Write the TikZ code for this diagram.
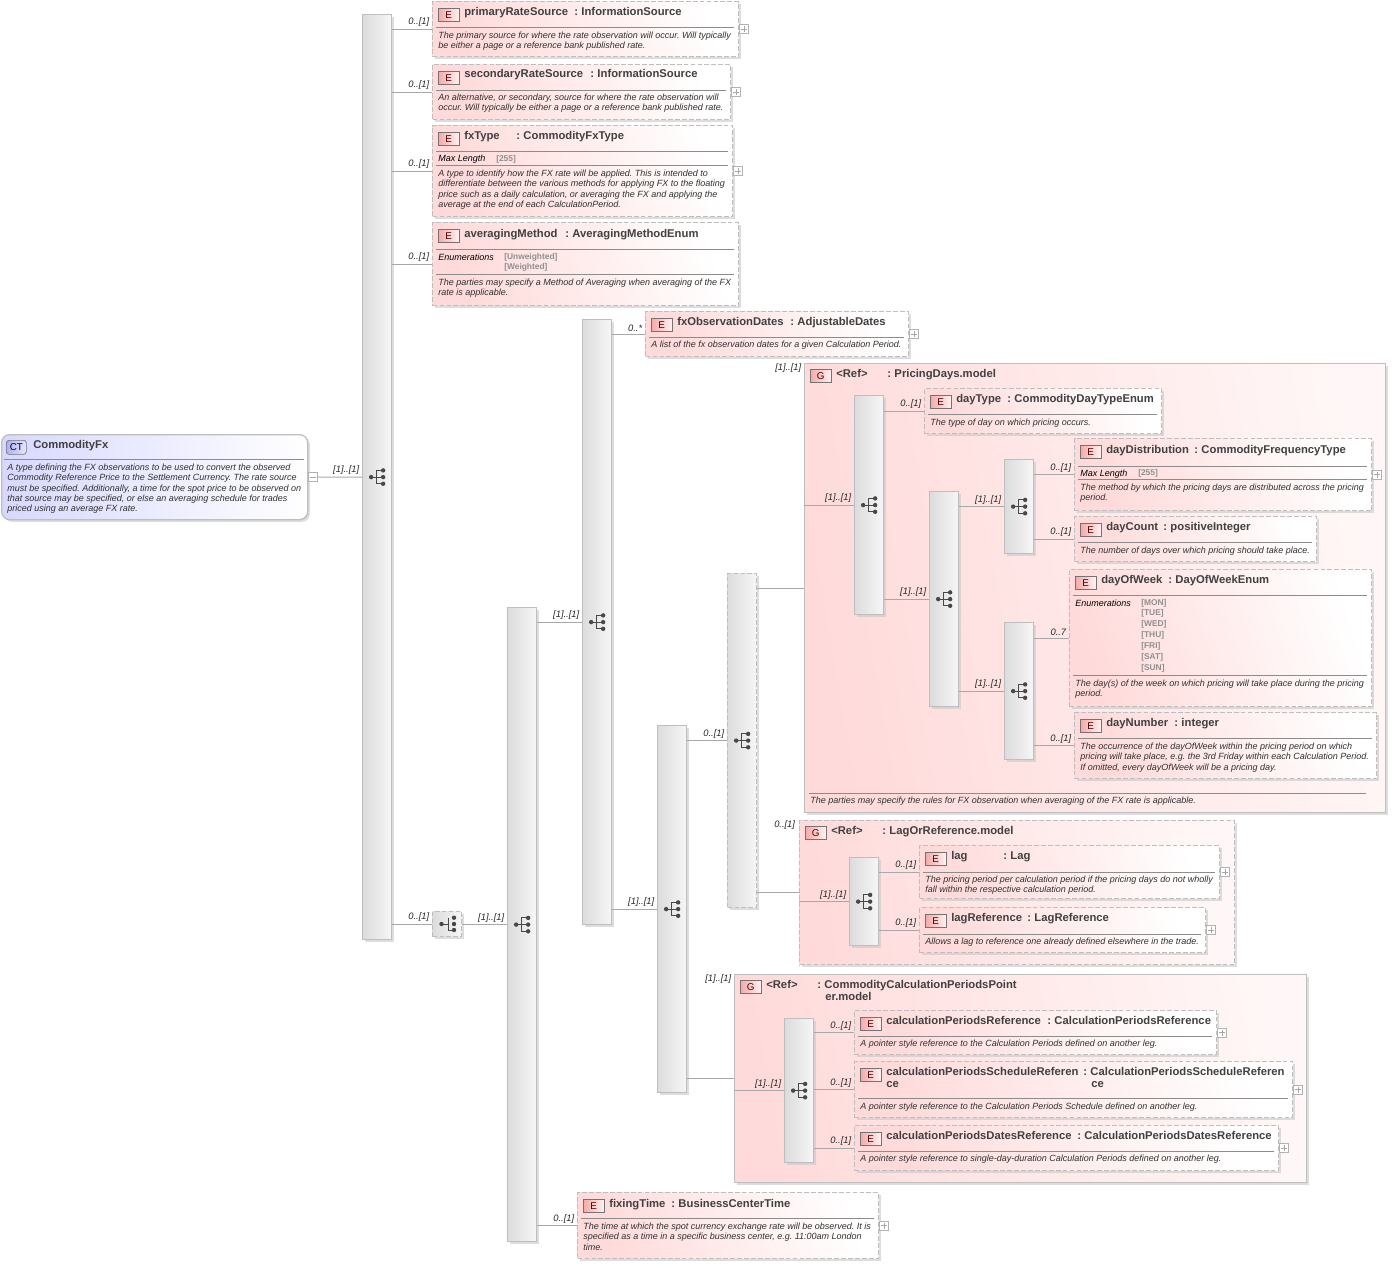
\documentclass[tikz,border=0pt]{standalone}
\usepackage{fontspec}
\setmainfont{Liberation Sans}
\usetikzlibrary{shadows}

\definecolor{elempink}{HTML}{FFDADA}
\definecolor{grouppale}{HTML}{FFF7F7}
\definecolor{badgepink}{HTML}{F6A8A8}
\definecolor{ctblue}{HTML}{D8D8FF}
\definecolor{badgeblue}{HTML}{B0B0F0}
\definecolor{edgegray}{HTML}{BEBEBE}
\definecolor{linegray}{HTML}{A8A8A8}
\definecolor{icongray}{HTML}{484848}
\definecolor{bargray}{HTML}{DCDCDC}
\definecolor{barpale}{HTML}{F6F6F6}
\definecolor{textgray}{HTML}{303030}
\definecolor{titlegray}{HTML}{404040}
\definecolor{enumgray}{HTML}{909090}

\tikzset{
  softshadow/.style={general shadow={shadow xshift=1.7pt, shadow yshift=-1.7pt, fill=black!22, opacity=.6}},
  dashedge/.style={dashed, dash pattern=on 3.6pt off 1.6pt},
  elembox/.style={anchor=north west, inner sep=0, softshadow, draw=edgegray, dashedge,
    line width=.95pt, left color=elempink, right color=white, shading angle=108},
  groupbox/.style={anchor=north west, inner sep=0, softshadow, draw=edgegray, line width=1.1pt,
    left color=elempink, right color=grouppale, shading angle=100},
  groupdash/.style={groupbox, dashedge},
  barbox/.style={anchor=north west, inner sep=0, softshadow, draw=edgegray, line width=.9pt, minimum width=21.8pt,
    left color=bargray, right color=barpale, shading angle=90},
  bardash/.style={barbox, dashedge},
  badge/.style={anchor=north west, inner sep=0, minimum width=15.5pt, minimum height=9.8pt, draw=black!55, line width=.5pt,
    left color=badgepink, right color=red!5, text=red!30!black, font=\fontsize{7.4}{8}\selectfont},
  titletext/.style={anchor=west, inner sep=0, text height=7.2pt, text depth=1.5pt, text=titlegray,
    font=\fontsize{8.45}{9}\selectfont\bfseries},
  desctext/.style={anchor=north west, inner sep=0, align=left, text=textgray,
    font=\fontsize{6.75}{7.7}\selectfont\itshape\frenchspacing},
  metatext/.style={anchor=west, inner sep=0, text=black, text height=6pt, text depth=1.2pt,
    font=\fontsize{6.75}{7.7}\selectfont\itshape},
  enumtext/.style={anchor=west, inner sep=0, text=enumgray, text height=6pt, text depth=1.2pt,
    font=\fontsize{6.3}{7}\selectfont\bfseries},
  cardlab/.style={anchor=south east, inner sep=0, xshift=-1.8pt, yshift=1.5pt, text=black!85,
    font=\fontsize{7}{8}\selectfont\itshape},
  cardtop/.style={anchor=west, inner sep=0, text=black!85, text height=6.2pt, text depth=1.5pt,
    font=\fontsize{7}{8}\selectfont\itshape},
  conn/.style={draw=linegray, line width=.65pt},
  rulegray/.style={draw=black!45, line width=.55pt},
  expander/.style={anchor=west, inner sep=0, minimum size=6.8pt, draw=black!30, line width=.5pt, fill=white},
  seqicon/.pic={
    \draw[icongray, line width=.65pt] (-5.5,0) -- (6,0) (-1,-6.7) -- (-1,6.7) (-1,-6.7) -- (6,-6.7) (-1,6.7) -- (6,6.7);
    \foreach \d in {-6.7,0,6.7} \fill[icongray] (6,\d) circle (2.2);
    \fill[icongray] (-6,0) circle (2.2);
  },
}

% id, x, y, width, height, rows of the rules
\newcommand{\elem}[6]{%
  \node[elembox, minimum width=(#4-1)*0.75pt, minimum height=(#5-1)*0.75pt] (#1) at (#2,#3) {};
  \node[badge] (#1badge) at (#2+6,#3+7) {E};
  \foreach \ry in {#6} \draw[rulegray] (#2+4,\ry) -- (#2+#4-5,\ry);
}
% id, x, row, name, x of the colon, type
\newcommand{\etitle}[6]{%
  \node[titletext] (#1name) at (#2,#3) {#4};
  \node[titletext] (#1type) at (#5,#3) {:\hspace{2.6pt}#6};
}
% id, x, row of the first line, lines
\newcommand{\dtext}[4]{%
  \node[desctext] (#1desc) at (#2,#3-3.8) {\strut #4};
}
% id, x, y, height
\newcommand{\seqbar}[4]{%
  \node[barbox, minimum height=(#4-1)*0.75pt] (#1) at (#2,#3) {};
  \pic at (#1.center) {seqicon};
}
\newcommand{\plusbox}[1]{%
  \node[expander] (#1plus) at (#1.east) {};
  \draw[draw=black!35, line width=.4pt] ([xshift=-2.2pt]#1plus.center) -- ([xshift=2.2pt]#1plus.center)
    ([yshift=-2.2pt]#1plus.center) -- ([yshift=2.2pt]#1plus.center);
}
\newcommand{\link}[3]{%
  \draw[conn] (#1.east |- #2.west) -- (#2.west) node[cardlab] (#2card) {#3};
}
\newcommand{\linkin}[3]{%
  \draw[conn] (#1.west |- #2.west) -- (#2.west) node[cardlab] (#2card) {#3};
}

\begin{document}
\begin{tikzpicture}[x=0.75pt, y=-0.75pt]
  \useasboundingbox (0,0) rectangle (1392,1266);

  % the complex type on the left
  \node[elembox, solid, rounded corners=6pt, left color=ctblue, minimum width=229.5pt, minimum height=63.75pt] (ctFx) at (1,434) {};
  \node[badge, rounded corners=2pt, minimum width=15pt, minimum height=10.5pt, left color=badgeblue, right color=blue!10, text=blue!20!black] (ctFxbadge) at (6,440) {CT};
  \node[titletext] (ctFxname) at (33,445) {CommodityFx};
  \draw[rulegray] (4,459) -- (304,459);
  \dtext{ctFx}{7}{467}{A type defining the FX observations to be used to convert the observed\\Commodity Reference Price to the Settlement Currency. The rate source\\must be specified. Additionally, a time for the spot price to be observed on\\that source may be specified, or else an averaging schedule for trades\\priced using an average FX rate.}
  \node[expander] (ctFxplus) at (ctFx.east) {};
  \draw[draw=black!35, line width=.4pt] ([xshift=-2.2pt]ctFxplus.center) -- ([xshift=2.2pt]ctFxplus.center);

  % sequence bars
  \seqbar{barRoot}{362}{14}{926}
  \seqbar{barMid}{507}{607}{635}
  \seqbar{barObs}{582}{319}{606}
  \seqbar{barCalc}{657}{725}{368}
  \node[bardash, minimum height=250.5pt] (barPeriod) at (727,573) {};
  \pic at (barPeriod.center) {seqicon};

  \node[bardash, minimum height=18.8pt] (choiceSmall) at (432,911) {};
  \draw[icongray, line width=.65pt] (441.5,924) -- (448,924) (448,917.5) -- (448,930) -- (454,930);
  \foreach \d in {917.7,924,930} \fill[icongray] (454,\d) circle (2.2);
  \fill[icongray] (441.5,924) circle (2.2);

  \draw[conn] (ctFxplus.east) -- (barRoot.west) node[cardlab] (barRootcard) {[1]..[1]};
  \link{barRoot}{choiceSmall}{0..[1]}
  \link{choiceSmall}{barMid}{[1]..[1]}
  \link{barMid}{barObs}{[1]..[1]}
  \link{barObs}{barCalc}{[1]..[1]}
  \link{barCalc}{barPeriod}{0..[1]}

  % first column of elements
  \elem{primary}{432}{1}{307}{56}{27}
  \etitle{primary}{464}{12}{primaryRateSource}{574}{InformationSource}
  \dtext{primary}{438}{35}{The primary source for where the rate observation will occur. Will typically\\be either a page or a reference bank published rate.}
  \plusbox{primary}
  \link{barRoot}{primary}{0..[1]}

  \elem{secondary}{432}{64}{299}{56}{90}
  \etitle{secondary}{464}{74}{secondaryRateSource}{590}{InformationSource}
  \dtext{secondary}{438}{97}{An alternative, or secondary, source for where the rate observation will\\occur. Will typically be either a page or a reference bank published rate.}
  \plusbox{secondary}
  \link{barRoot}{secondary}{0..[1]}

  \elem{fxType}{432}{125}{301}{92}{151,165}
  \etitle{fxType}{464}{136}{fxType}{516}{CommodityFxType}
  \node[metatext] (fxTypemax) at (438,158.5) {Max Length};
  \node[enumtext] (fxTypelen) at (496,158) {[255]};
  \dtext{fxType}{438}{173}{A type to identify how the FX rate will be applied. This is intended to\\differentiate between the various methods for applying FX to the floating\\price such as a daily calculation, or averaging the FX and applying the\\average at the end of each CalculationPeriod.}
  \plusbox{fxType}
  \link{barRoot}{fxType}{0..[1]}

  \elem{averaging}{432}{222}{307}{84}{249,274}
  \etitle{averaging}{464}{234}{averagingMethod}{565}{AveragingMethodEnum}
  \node[metatext] (averagingenum) at (438,257) {Enumerations};
  \node[enumtext] (averagingun) at (504,256) {[Unweighted]};
  \node[enumtext] (averagingwe) at (504,266) {[Weighted]};
  \dtext{averaging}{438}{282}{The parties may specify a Method of Averaging when averaging of the FX\\rate is applicable.}
  \link{barRoot}{averaging}{0..[1]}

  \elem{fxObs}{645}{311}{264}{46}{337}
  \etitle{fxObs}{677}{322}{fxObservationDates}{790}{AdjustableDates}
  \dtext{fxObs}{651}{344}{A list of the fx observation dates for a given Calculation Period.}
  \plusbox{fxObs}
  \link{barObs}{fxObs}{0..*}

  \elem{fixingTime}{577}{1192}{302}{67}{1218}
  \etitle{fixingTime}{609}{1204}{fixingTime}{671}{BusinessCenterTime}
  \dtext{fixingTime}{583}{1226}{The time at which the spot currency exchange rate will be observed. It is\\specified as a time in a specific business center, e.g. 11:00am London\\time.}
  \plusbox{fixingTime}
  \link{barMid}{fixingTime}{0..[1]}

  % the pricing days group
  \node[groupbox, minimum width=435.75pt, minimum height=336.75pt] (gPricing) at (804,363) {};
  \node[badge] (gPricingbadge) at (810,369) {G};
  \node[titletext] (gPricingref) at (836,374) {<Ref>};
  \node[titletext] (gPricingname) at (887,374) {:\hspace{2.6pt}PricingDays.model};
  \node[cardtop] (gPricingcard) at (775,367) {[1]..[1]};
  \draw[rulegray] (809,793) -- (1366,793);
  \dtext{gPricing}{810}{800}{The parties may specify the rules for FX observation when averaging of the FX rate is applicable.}
  \draw[conn] (barPeriod.east |- gPricing.west) -- (gPricing.west);

  \seqbar{barPricing}{854}{395}{220}
  \seqbar{barDay}{929}{491}{216}
  \seqbar{barDist}{1004}{459}{95}
  \seqbar{barWeek}{1004}{622}{138}
  \linkin{gPricing}{barPricing}{[1]..[1]}
  \link{barPricing}{barDay}{[1]..[1]}
  \link{barDay}{barDist}{[1]..[1]}
  \link{barDay}{barWeek}{[1]..[1]}

  \elem{dayType}{924}{388}{238}{46}{414}
  \etitle{dayType}{956}{399}{dayType}{1007}{CommodityDayTypeEnum}
  \dtext{dayType}{930}{422}{The type of day on which pricing occurs.}
  \link{barPricing}{dayType}{0..[1]}

  \elem{dayDistribution}{1074}{438}{298}{73}{466,479}
  \etitle{dayDistribution}{1106}{450}{dayDistribution}{1194}{CommodityFrequencyType}
  \node[metatext] (dayDistributionmax) at (1080,473) {Max Length};
  \node[enumtext] (dayDistributionlen) at (1138,472.5) {[255]};
  \dtext{dayDistribution}{1080}{487}{The method by which the pricing days are distributed across the pricing\\period.}
  \plusbox{dayDistribution}
  \link{barDist}{dayDistribution}{0..[1]}

  \elem{dayCount}{1074}{516}{243}{46}{542}
  \etitle{dayCount}{1106}{527}{dayCount}{1163}{positiveInteger}
  \dtext{dayCount}{1080}{550}{The number of days over which pricing should take place.}
  \link{barDist}{dayCount}{0..[1]}

  \elem{dayOfWeek}{1069}{569}{303}{138}{595,675}
  \etitle{dayOfWeek}{1101}{580}{dayOfWeek}{1168}{DayOfWeekEnum}
  \node[metatext] (dayOfWeekenum) at (1075,603) {Enumerations};
  \foreach \v/\yy in {MON/602,TUE/612.5,WED/623,THU/634,FRI/645,SAT/656,SUN/667}
    \node[enumtext] (day\v) at (1141,\yy) {[\v]};
  \dtext{dayOfWeek}{1075}{683}{The day(s) of the week on which pricing will take place during the pricing\\period.}
  \link{barWeek}{dayOfWeek}{0..7}

  \elem{dayNumber}{1074}{712}{303}{67}{738}
  \etitle{dayNumber}{1106}{723}{dayNumber}{1174}{integer}
  \dtext{dayNumber}{1080}{746}{The occurrence of the dayOfWeek within the pricing period on which\\pricing will take place, e.g. the 3rd Friday within each Calculation Period.\\If omitted, every dayOfWeek will be a pricing day.}
  \link{barWeek}{dayNumber}{0..[1]}

  % the lag group
  \node[groupdash, minimum width=326.25pt, minimum height=108pt] (gLag) at (799,820) {};
  \node[badge] (gLagbadge) at (805,826) {G};
  \node[titletext] (gLagref) at (831,831) {<Ref>};
  \node[titletext] (gLagname) at (882,831) {:\hspace{2.6pt}LagOrReference.model};
  \node[cardtop] (gLagcard) at (774,824) {0..[1]};
  \draw[conn] (barPeriod.east |- gLag.west) -- (gLag.west);

  \seqbar{barLag}{849}{857}{89}
  \linkin{gLag}{barLag}{[1]..[1]}

  \elem{lag}{919}{845}{301}{54}{872}
  \etitle{lag}{951}{856}{lag}{1003}{Lag}
  \dtext{lag}{925}{879}{The pricing period per calculation period if the pricing days do not wholly\\fall within the respective calculation period.}
  \plusbox{lag}
  \link{barLag}{lag}{0..[1]}

  \elem{lagReference}{919}{907}{287}{46}{934}
  \etitle{lagReference}{951}{918}{lagReference}{1027}{LagReference}
  \dtext{lagReference}{925}{941}{Allows a lag to reference one already defined elsewhere in the trade.}
  \plusbox{lagReference}
  \link{barLag}{lagReference}{0..[1]}

  % the calculation periods group
  \node[groupbox, minimum width=429pt, minimum height=156pt] (gPoint) at (734,974) {};
  \node[badge] (gPointbadge) at (740,980) {G};
  \node[titletext] (gPointref) at (766,985) {<Ref>};
  \node[titletext] (gPointname) at (817,985) {:\hspace{2.6pt}CommodityCalculationPeriodsPoint};
  \node[titletext] (gPointmore) at (825,997) {er.model};
  \node[cardtop] (gPointcard) at (705,978) {[1]..[1]};
  \draw[conn] (barCalc.east |- gPoint.west) -- (gPoint.west);

  \seqbar{barPoint}{784}{1018}{145}
  \linkin{gPoint}{barPoint}{[1]..[1]}

  \elem{calcRef}{854}{1010}{363}{45}{1036}
  \etitle{calcRef}{886}{1021}{calculationPeriodsReference}{1047}{CalculationPeriodsReference}
  \dtext{calcRef}{860}{1043}{A pointer style reference to the Calculation Periods defined on another leg.}
  \plusbox{calcRef}
  \link{barPoint}{calcRef}{0..[1]}

  \elem{calcSched}{854}{1061}{439}{57}{1098}
  \etitle{calcSched}{886}{1072}{calculationPeriodsScheduleReferen}{1083}{CalculationPeriodsScheduleReferen}
  \node[titletext] (calcSchedmore) at (886,1084) {ce};
  \node[titletext] (calcSchedtail) at (1091,1084) {ce};
  \dtext{calcSched}{860}{1106}{A pointer style reference to the Calculation Periods Schedule defined on another leg.}
  \plusbox{calcSched}
  \link{barPoint}{calcSched}{0..[1]}

  \elem{calcDates}{854}{1125}{425}{46}{1151}
  \etitle{calcDates}{886}{1136}{calculationPeriodsDatesReference}{1077}{CalculationPeriodsDatesReference}
  \dtext{calcDates}{860}{1158}{A pointer style reference to single-day-duration Calculation Periods defined on another leg.}
  \plusbox{calcDates}
  \link{barPoint}{calcDates}{0..[1]}
\end{tikzpicture}
\end{document}
